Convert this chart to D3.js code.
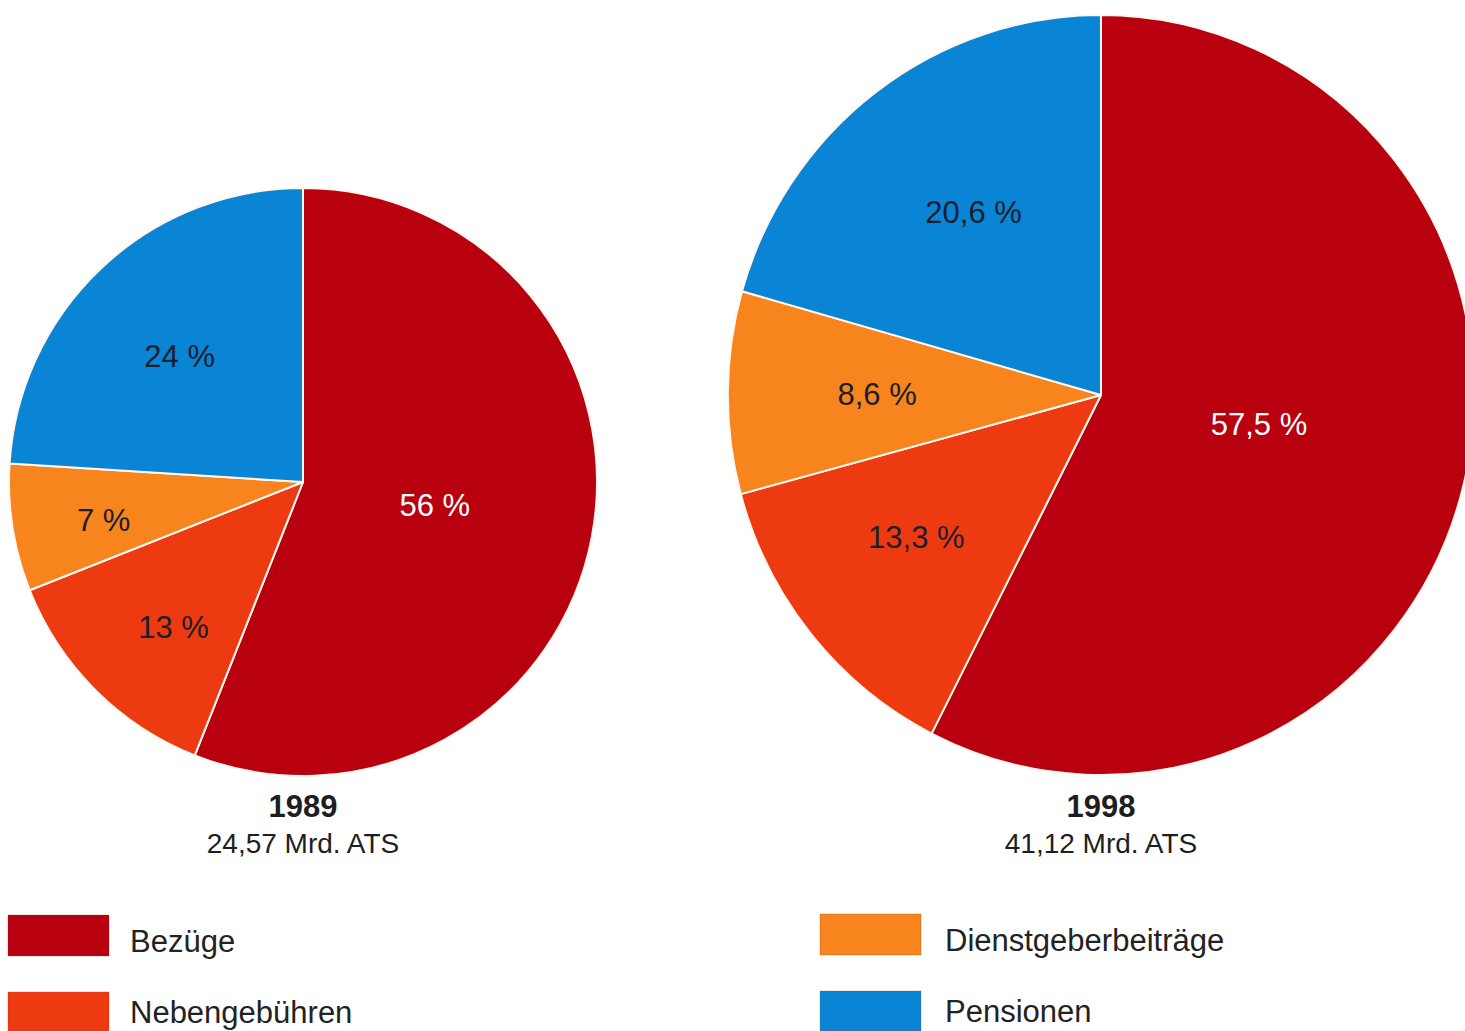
<!DOCTYPE html>
<html><head><meta charset="utf-8">
<script src="https://cdn.jsdelivr.net/npm/d3@7"></script>
<style>body{margin:0;background:#fff;}svg{display:block;}text{font-family:"Liberation Sans",Arial,Helvetica,sans-serif;}</style>
</head><body>
<svg id="c" width="1465" height="1031"></svg>
<script>
// Data
const categories = ["Bezüge", "Nebengebühren", "Dienstgeberbeiträge", "Pensionen"];
const years = ["1989", "1998"];
const totals = ["24,57 Mrd. ATS", "41,12 Mrd. ATS"];
const values1989 = [56, 13, 7, 24];
const values1998 = [57.5, 13.3, 8.6, 20.6];
const labels1989 = ["56 %", "13 %", "7 %", "24 %"];
const labels1998 = ["57,5 %", "13,3 %", "8,6 %", "20,6 %"];
const colors = ["#b8000f", "#ee3a10", "#f7841c", "#0a84d4"];

const svg = d3.select("#c");
const color = d3.scaleOrdinal().domain(categories).range(colors);

const pies = [
  {values: values1989, labels: labels1989, cx: 303, cy: 482, r: 294, sx: 1, year: years[0], total: totals[0],
   lr: [0.455, 0.66, 0.69, 0.60], la: [-0.015, -0.055, -0.03, -0.02]},
  {values: values1998, labels: labels1998, cx: 1101, cy: 395, r: 380, sx: 0.982, year: years[1], total: totals[1],
   lr: [0.43, 0.62, 0.60, 0.59], la: [-0.06, 0.035, 0, 0.03]}
];

const pie = d3.pie().sort(null).value(d => d.v);

pies.forEach(p => {
  const data = categories.map((c, i) => ({c, v: p.values[i], l: p.labels[i], i}));
  const arcs = pie(data);
  const g = svg.append("g").attr("transform", `translate(${p.cx},${p.cy})`);
  const arc = d3.arc().innerRadius(0).outerRadius(p.r);
  g.append("g").attr("transform", `scale(${p.sx},1)`)
    .selectAll("path.s").data(arcs).join("path")
    .attr("class", "s")
    .attr("d", arc)
    .attr("fill", d => color(d.data.c))
    .attr("stroke", "#fff8f0")
    .attr("stroke-width", 2)
    .attr("vector-effect", "non-scaling-stroke")
    .attr("stroke-linejoin", "round");
  g.selectAll("text.l").data(arcs).join("text")
    .attr("class", "l")
    .attr("transform", d => {
      const lr = p.r * p.lr[d.data.i];
      const a = (d.startAngle + d.endAngle) / 2 + p.la[d.data.i];
      return `translate(${Math.sin(a) * lr * p.sx},${-Math.cos(a) * lr})`;
    })
    .attr("text-anchor", "middle")
    .attr("dy", "0.36em")
    .attr("font-size", 31)
    .attr("fill", d => d.data.i === 0 ? "#ffffff" : "#1a1f2e")
    .text(d => d.data.l);
  svg.append("text").attr("x", p.cx).attr("y", 817).attr("text-anchor", "middle")
    .attr("font-size", 31).attr("font-weight", "bold").attr("fill", "#1e1e1e").text(p.year);
  svg.append("text").attr("x", p.cx).attr("y", 853).attr("text-anchor", "middle")
    .attr("font-size", 28).attr("fill", "#1e1e1e").text(p.total);
});

// Legend
const legendPos = [
  {x: 8, y: 915, tx: 130, ty: 952},
  {x: 8, y: 992, tx: 130, ty: 1023},
  {x: 820, y: 914, tx: 945, ty: 951},
  {x: 820, y: 991, tx: 945, ty: 1022}
];
categories.forEach((c, i) => {
  const lp = legendPos[i];
  svg.append("rect").attr("x", lp.x).attr("y", lp.y).attr("width", 101).attr("height", 41)
    .attr("fill", color(c)).attr("stroke", "#8a3a20").attr("stroke-opacity", 0.25);
  svg.append("text").attr("x", lp.tx).attr("y", lp.ty).attr("font-size", 31)
    .attr("fill", "#222").text(c);
});
</script>
</body></html>
